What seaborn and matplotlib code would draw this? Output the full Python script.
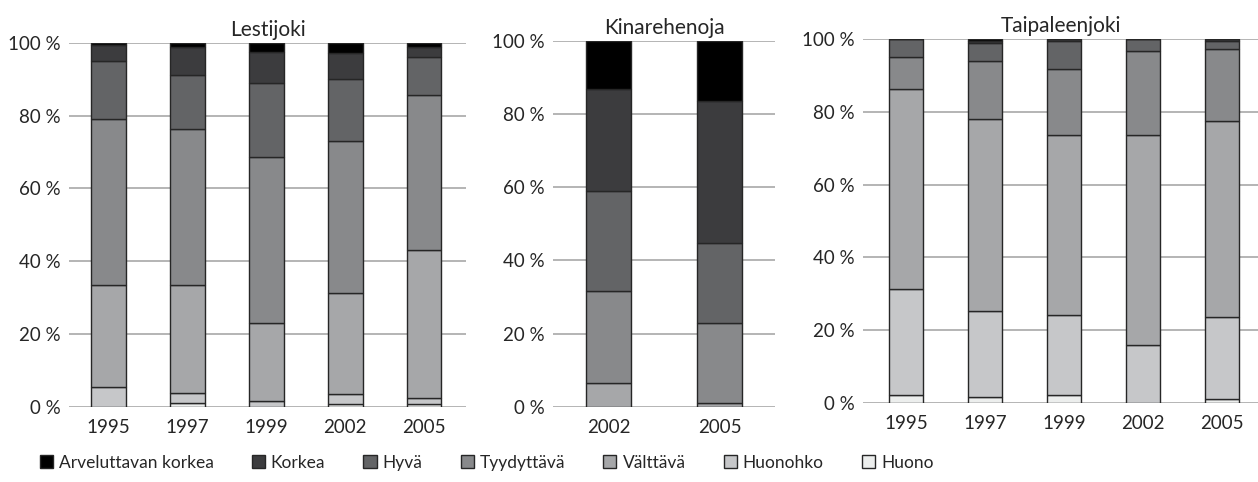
import pandas as pd
import matplotlib.pyplot as plt
import seaborn as sns
from matplotlib.ticker import FuncFormatter

# Luokat ylhäältä alas (pinon järjestys: viimeinen alimpana)
luokat = ['Arveluttavan korkea', 'Korkea', 'Hyvä', 'Tyydyttävä', 'Välttävä', 'Huonohko', 'Huono']
varit = ['#000000', '#3c3c3e', '#636466', '#88898b', '#a6a7a9', '#c6c7c9', '#eceeed']

# Lestijoki
lesti_vuodet = ['1995', '1997', '1999', '2002', '2005']
lesti_arv = [0.7, 1.3, 2.5, 2.9, 1.2]
lesti_korkea = [4.4, 7.7, 8.7, 7.1, 2.8]
lesti_hyva = [15.9, 14.8, 20.2, 17.0, 10.4]
lesti_tyyd = [45.6, 42.8, 45.5, 41.8, 42.6]
lesti_valtt = [27.9, 29.55, 21.4, 27.8, 40.7]
lesti_huonohko = [5.5, 2.75, 1.7, 2.75, 1.65]
lesti_huono = [0.0, 1.1, 0.0, 0.65, 0.65]

# Kinarehenoja
kinar_vuodet = ['2002', '2005']
kinar_arv = [13.3, 16.4]
kinar_korkea = [27.8, 38.9]
kinar_hyva = [27.2, 21.7]
kinar_tyyd = [25.1, 22.1]
kinar_valtt = [6.6, 0.9]
kinar_huonohko = [0.0, 0.0]
kinar_huono = [0.0, 0.0]

# Taipaleenjoki
taipa_vuodet = ['1995', '1997', '1999', '2002', '2005']
taipa_arv = [0.0, 0.5, 0.0, 0.0, 0.0]
taipa_korkea = [0.0, 0.6, 0.4, 0.0, 0.5]
taipa_hyva = [5.0, 5.0, 7.9, 3.3, 2.2]
taipa_tyyd = [8.8, 15.8, 18.1, 23.1, 19.9]
taipa_valtt = [54.9, 53.0, 49.4, 57.7, 53.8]
taipa_huonohko = [29.1, 23.4, 22.0, 15.9, 22.5]
taipa_huono = [2.2, 1.7, 2.2, 0.0, 1.1]


def taulukko(vuodet, sarjat):
    rivit = []
    for luokka, arvot in zip(luokat, sarjat):
        for vuosi, arvo in zip(vuodet, arvot):
            rivit.append({'vuosi': vuosi, 'luokka': luokka, 'osuus': arvo})
    return pd.DataFrame(rivit)


joet = [
    ('Lestijoki', taulukko(lesti_vuodet, [lesti_arv, lesti_korkea, lesti_hyva, lesti_tyyd,
                                          lesti_valtt, lesti_huonohko, lesti_huono])),
    ('Kinarehenoja', taulukko(kinar_vuodet, [kinar_arv, kinar_korkea, kinar_hyva, kinar_tyyd,
                                             kinar_valtt, kinar_huonohko, kinar_huono])),
    ('Taipaleenjoki', taulukko(taipa_vuodet, [taipa_arv, taipa_korkea, taipa_hyva, taipa_tyyd,
                                              taipa_valtt, taipa_huonohko, taipa_huono])),
]

sns.set_style('white')
plt.rcParams['font.family'] = ['Lato', 'DejaVu Sans']

fig = plt.figure(figsize=(12.58, 4.82), dpi=100)

# akselien paikat (vasen, ala, leveys, korkeus), x-rajat ja pylvään leveys
paikat = [
    ([0.0548, 0.1562, 0.3156, 0.7552], (-0.5, 4.53), 0.44),
    ([0.4396, 0.1562, 0.1765, 0.7594], (-0.5, 1.5), 0.40),
    ([0.6860, 0.1645, 0.3140, 0.7540], (-0.545, 4.455), 0.42),
]

akselit = []
for i, ((nimi, df), (rect, xlim, leveys)) in enumerate(zip(joet, paikat)):
    ax = fig.add_axes(rect)
    sns.histplot(
        data=df, x='vuosi', hue='luokka', weights='osuus',
        hue_order=luokat, palette=varit,
        multiple='stack', discrete=True, shrink=leveys,
        alpha=1, edgecolor='#262626', linewidth=1.0,
        legend=(i == 0), ax=ax
    )
    ax.set_xlim(*xlim)
    ax.set_ylim(0, 100)
    ax.set_yticks([0, 20, 40, 60, 80, 100])
    ax.yaxis.set_major_formatter(FuncFormatter(lambda v, _: f'{v:.0f} %'))
    ax.set_xlabel('')
    ax.set_ylabel('')
    ax.set_title(nimi, fontsize=15, pad=5)
    ax.yaxis.grid(True, color='#a8a8a8', linewidth=1.2)
    ax.set_axisbelow(True)
    sns.despine(ax=ax, left=True, bottom=True)
    ax.tick_params(axis='x', length=0, pad=9, labelsize=13.5)
    ax.tick_params(axis='y', length=0, pad=6, labelsize=13.5)
    akselit.append(ax)

sns.move_legend(
    akselit[0], 'center left',
    bbox_to_anchor=(0.019, 0.04), bbox_transform=fig.transFigure,
    ncol=7, frameon=False, title=None, fontsize=12.5,
    handlelength=0.75, handleheight=0.75, handletextpad=0.35,
    columnspacing=2.2
)

fig.savefig('out.png', dpi=100)
plt.close(fig)
